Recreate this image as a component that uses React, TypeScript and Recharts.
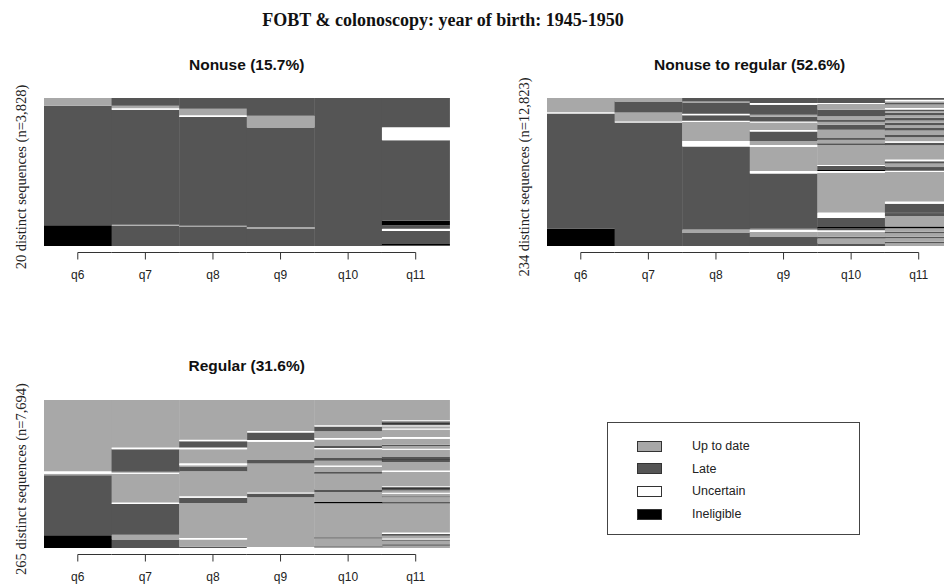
import React from 'react';
import { BarChart, Bar, XAxis, YAxis, Cell } from 'recharts';

const periods = ['q6', 'q7', 'q8', 'q9', 'q10', 'q11'];

const stateCodes = ['U', 'L', 'C', 'I'];
const stateLabels = ['Up to date', 'Late', 'Uncertain', 'Ineligible'];
const stateColors = ['#a8a8a8', '#555555', '#ffffff', '#000000'];

// one string of state codes per period, read top to bottom,
// with the matching share of sequences (%) for each run
const nonuseStates = ['ULI', 'LUCLUL', 'LUCLUL', 'LULUL', 'L', 'LCLILCLIL'];
const nonuseShares = [
  [5.2, 80.8, 14.0],
  [5.2, 1.8, 0.9, 77.8, 0.7, 13.6],
  [7.2, 4.5, 1.1, 73.5, 0.9, 12.8],
  [12.0, 7.9, 67.2, 1.4, 11.5],
  [100],
  [19.7, 8.8, 54.5, 2.9, 2.5, 1.4, 8.8, 0.7, 0.7],
];

const toRegularStates = [
  'UCLI',
  'ULUCL',
  'LULCLCUCLUL',
  'LCLULCUCLUCUCLUCUL',
  'LCULUIULUIULUCLICUCLILCULUL',
  'LCULUCLULULULULULUCLUCLUILCUCLILUIULULULU',
];
const toRegularShares = [
  [9.7, 0.7, 77.8, 11.8],
  [2.3, 7.5, 6.1, 0.7, 83.4],
  [2.3, 0.7, 7.7, 0.9, 3.8, 0.9, 12.7, 3.8, 56.1, 2.3, 8.8],
  [3.4, 1.1, 6.8, 1.4, 3.2, 0.7, 5.0, 1.1, 6.3, 2.7, 1.4, 16.3, 1.6, 37.3, 0.9, 1.4, 3.4, 6.0],
  [3.4, 0.7, 3.8, 4.5, 2.7, 0.7, 2.3, 3.4, 5.7, 0.9, 2.5, 1.1, 13.6, 0.7, 2.7, 0.7, 1.1, 26.9, 3.6, 6.1, 1.1, 1.1, 1.1, 3.4, 1.1, 3.4, 1.7],
  [1.1, 1.1, 1.1, 1.1, 2.3, 1.1, 1.1, 1.1, 1.6, 1.8, 1.8, 1.6, 1.6, 1.8, 1.8, 2.7, 1.8, 2.7, 1.1, 1.6, 9.7, 1.1, 1.6, 2.5, 0.9, 1.4, 0.9, 19.9, 1.6, 5.9, 0.5, 1.8, 7.2, 1.1, 2.3, 1.1, 2.3, 1.1, 2.3, 1.1, 1.8],
];

const regularStates = [
  'UCULI',
  'UCLUCUCLUL',
  'UCLCUCULUCLUCUL',
  'UCLCULUCLUC',
  'UCLUCULCULUCULULUIULULU',
  'UCLILCUCUCULUCULILUCUCILUCULUIUCLUCLULU',
];
const regularShares = [
  [48.1, 1.8, 0.9, 40.6, 8.6],
  [32.1, 1.1, 15.3, 0.7, 0.7, 19.4, 0.9, 20.8, 3.2, 5.8],
  [26.9, 0.9, 4.3, 1.1, 9.5, 1.4, 0.9, 3.2, 16.9, 0.9, 3.6, 23.7, 0.9, 5.0, 0.8],
  [21.0, 0.9, 5.2, 1.1, 12.4, 2.3, 19.6, 0.7, 2.5, 33.6, 0.7],
  [17.0, 0.9, 3.2, 4.5, 1.1, 4.3, 1.4, 0.9, 5.9, 1.8, 3.2, 0.9, 3.6, 1.1, 10.6, 1.8, 6.8, 0.7, 23.0, 0.9, 5.2, 0.7, 0.5],
  [13.6, 0.7, 0.9, 0.9, 0.9, 0.7, 1.6, 0.7, 5.0, 1.1, 4.1, 0.9, 1.8, 0.7, 4.5, 2.0, 0.7, 1.1, 5.7, 1.1, 9.5, 0.7, 1.1, 1.1, 1.6, 0.7, 1.6, 0.7, 3.4, 0.7, 19.7, 1.1, 1.1, 1.8, 0.7, 0.9, 2.3, 1.1, 1.5],
];

const SANS = '"Liberation Sans", Arial, sans-serif';
const SERIF = '"Liberation Serif", "Times New Roman", serif';

const CHART_W = 460;
const CHART_H = 232;
const TOP_PAD = 40;
const Y_W = 44;
const PLOT_W = 405.5;
const COL_W = PLOT_W / periods.length;

// stacked bars go bottom-up, so flip each column
function buildPanel(states: string[], shares: number[][]) {
  const cols = states.map((s, c) =>
    s.split('').map((code, i) => ({ code, v: shares[c][i] })).reverse()
  );
  const depth = Math.max(...cols.map((c) => c.length));
  const keys = Array.from({ length: depth }, (_, i) => 's' + i);
  const rows = periods.map((p, c) => {
    const r: any = { period: p };
    cols[c].forEach((seg, i) => (r['s' + i] = seg.v));
    return r;
  });
  const fills = cols.map((col) => col.map((seg) => stateColors[stateCodes.indexOf(seg.code)]));
  return { keys, rows, fills };
}

const PeriodTick = (props: any) => {
  const { x, y, payload, index } = props;
  const last = periods.length - 1;
  const ly = Math.round(y) + 6.5;
  return (
    <g>
      <line x1={index === 0 ? x : x - COL_W / 2} x2={index === last ? x : x + COL_W / 2} y1={ly} y2={ly} stroke="#333" />
      <line x1={x} x2={x} y1={ly} y2={ly + 7} stroke="#333" />
      <text x={x} y={y + 33} textAnchor="middle" fontFamily={SANS} fontSize={12} fill="#222">
        {payload.value}
      </text>
    </g>
  );
};

interface PanelProps {
  left: number;
  plotTop: number;
  ylab: string;
  states: string[];
  shares: number[][];
}

const SeqPanel: React.FC<PanelProps> = ({ left, plotTop, ylab, states, shares }) => {
  const { keys, rows, fills } = buildPanel(states, shares);
  return (
    <div style={{ position: 'absolute', left, top: plotTop - TOP_PAD }}>
      <BarChart
        width={CHART_W}
        height={CHART_H}
        data={rows}
        margin={{ top: TOP_PAD, right: CHART_W - Y_W - PLOT_W, bottom: 0, left: 0 }}
        barCategoryGap={0}
        barGap={0}
      >
        <XAxis
          dataKey="period"
          axisLine={false}
          tickLine={false}
          tickSize={0}
          tickMargin={0}
          height={44}
          interval={0}
          tick={<PeriodTick />}
        />
        <YAxis
          type="number"
          domain={[0, 100]}
          allowDataOverflow
          width={Y_W}
          tick={false}
          axisLine={false}
          tickLine={false}
          label={{
            value: ylab,
            angle: -90,
            position: 'center',
            dx: -1.5,
            dy: 5,
            fontFamily: SERIF,
            fontSize: 14.5,
            fill: '#222',
          }}
        />
        {keys.map((k, i) => (
          <Bar key={k} dataKey={k} stackId="seq" isAnimationActive={false}>
            {rows.map((_, c) => (
              <Cell key={c} fill={fills[c][i] || '#ffffff'} />
            ))}
          </Bar>
        ))}
      </BarChart>
    </div>
  );
};

const StateLegend = () => (
  <div
    style={{
      position: 'absolute',
      left: 607,
      top: 422,
      width: 253,
      height: 113,
      border: '1px solid #444',
      boxSizing: 'border-box',
    }}
  >
    {stateLabels.map((lab, i) => {
      const cy = 24 + i * 22.7;
      return (
        <React.Fragment key={lab}>
          <div
            style={{
              position: 'absolute',
              left: 29,
              top: cy - 6.5,
              width: 25,
              height: 11,
              background: stateColors[i],
              border: '1px solid #333',
              boxSizing: 'border-box',
            }}
          />
          <div
            style={{
              position: 'absolute',
              left: 84,
              top: cy - 8,
              fontFamily: SANS,
              fontSize: 12.5,
              lineHeight: '15px',
              color: '#222',
              whiteSpace: 'nowrap',
            }}
          >
            {lab}
          </div>
        </React.Fragment>
      );
    })}
  </div>
);

export default function App() {
  return (
    <div
      style={{
        position: 'absolute',
        left: 0,
        top: 0,
        width: 944,
        height: 588,
        overflow: 'hidden',
        background: '#fff',
      }}
    >
      <SeqPanel left={0} plotTop={98} ylab="20 distinct sequences (n=3,828)" states={nonuseStates} shares={nonuseShares} />
      <SeqPanel
        left={503}
        plotTop={98}
        ylab="234 distinct sequences (n=12,823)"
        states={toRegularStates}
        shares={toRegularShares}
      />
      <SeqPanel left={0} plotTop={400} ylab="265 distinct sequences (n=7,694)" states={regularStates} shares={regularShares} />
      <StateLegend />
      <svg width={944} height={588} style={{ position: 'absolute', left: 0, top: 0, pointerEvents: 'none' }}>
        <text x={443} y={26} textAnchor="middle" fontFamily={SERIF} fontWeight="bold" fontSize={18} fill="#111">
          FOBT &amp; colonoscopy: year of birth: 1945-1950
        </text>
        <text x={246.7} y={69.5} textAnchor="middle" fontFamily={SANS} fontWeight="bold" fontSize={15.5} fill="#111">
          Nonuse (15.7%)
        </text>
        <text x={749.7} y={69.5} textAnchor="middle" fontFamily={SANS} fontWeight="bold" fontSize={15.5} fill="#111">
          Nonuse to regular (52.6%)
        </text>
        <text x={246.7} y={370.5} textAnchor="middle" fontFamily={SANS} fontWeight="bold" fontSize={15.5} fill="#111">
          Regular (31.6%)
        </text>
      </svg>
    </div>
  );
}
